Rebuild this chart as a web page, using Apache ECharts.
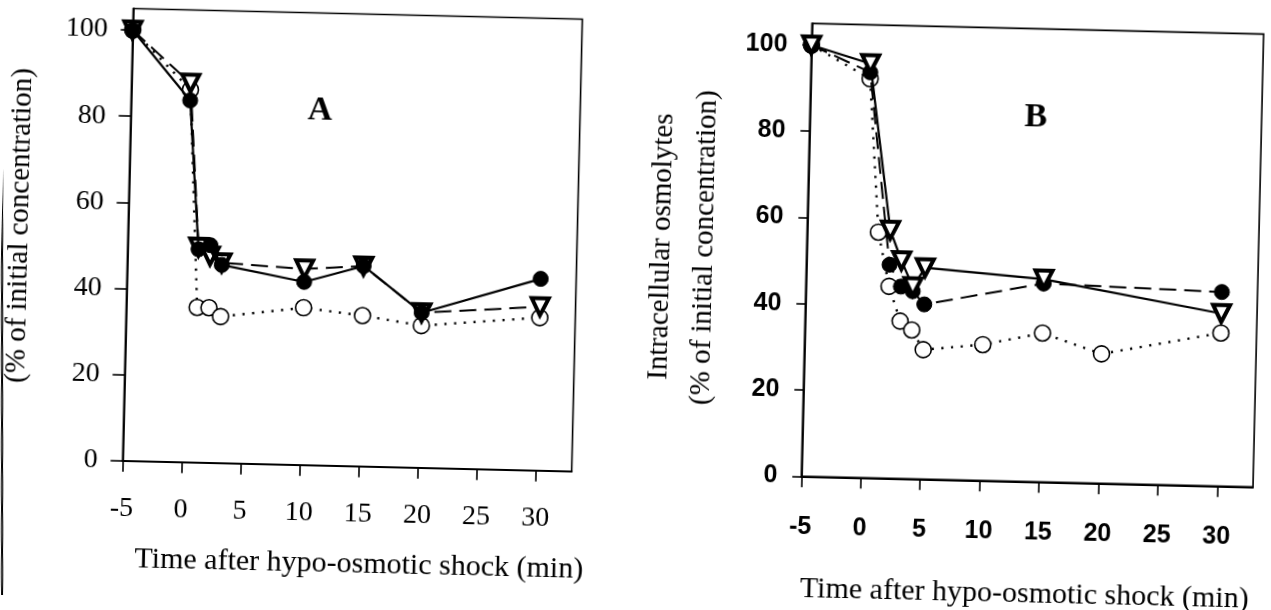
<!DOCTYPE html>
<html>
<head>
<meta charset="utf-8">
<script src="https://cdn.jsdelivr.net/npm/echarts@6/dist/echarts.min.js"></script>
<style>
  html, body { margin: 0; padding: 0; background: #fff; overflow: hidden; }
  /* the printed figure sits slightly tilted on the page */
  #chart { width: 1271px; height: 610px; transform: rotate(1.35deg); transform-origin: 635.5px 305px; }
</style>
</head>
<body>
<div id="chart"></div>
<script>
// Axis ticks and titles shared by both panels
const xTicks = [-5, 0, 5, 10, 15, 20, 25, 30];
const yTicks = [0, 20, 40, 60, 80, 100];
const xTitle = 'Time after hypo-osmotic shock (min)';
const yTitle = 'Intracellular osmolytes\n(% of initial concentration)';

// Panel A: all three series sampled at the same times
const timeA = [-5, 0, 1, 2, 3, 10, 15, 20, 30];
const aFilled = [100, 84, 49.5, 50.5, 46, 42.5, 46.5, 36, 44.5];
const aTriangle = [100, 88, 50, 48, 46.5, 45.5, 46.5, 36, 38];
const aOpen = [100, 86.5, 36, 36, 34, 36.5, 35, 33, 35.5];

// Panel B
const timeBFilled = [-5, 0, 2, 3, 4, 5, 15, 30];
const bFilled = [100, 94, 49.5, 44.5, 43.5, 40.5, 46, 45];
const timeBTriangle = [-5, 0, 2, 3, 4, 5, 15, 30];
const bTriangle = [100, 96, 57.5, 50.5, 44.5, 49, 47, 40];
const timeBOpen = [-5, 0, 1, 2, 3, 4, 5, 10, 15, 20, 30];
const bOpen = [100, 92.5, 57, 44.5, 36.5, 34.5, 30, 31.5, 34.5, 30, 35.5];

const pairs = (xs, ys) => xs.map((x, i) => [x, ys[i]]);

const SERIF = '"Liberation Serif", "Times New Roman", serif';
const SANS = '"Liberation Sans", Arial, sans-serif';

function xAxisFor(gridIndex, font, size, weight, margin, tickLen) {
  return {
    type: 'value', gridIndex, min: -5, max: 33,
    axisLine: { show: true, onZero: false, lineStyle: { color: '#000', width: 1.8 } },
    axisTick: { show: true, inside: false, length: tickLen, customValues: xTicks,
                lineStyle: { color: '#000', width: 1.6 } },
    axisLabel: { customValues: xTicks, margin, color: '#000',
                 fontFamily: font, fontSize: size, fontWeight: weight },
    splitLine: { show: false }
  };
}
function yAxisFor(gridIndex, font, size, weight, margin, tickLen) {
  return {
    type: 'value', gridIndex, min: 0, max: 105,
    axisLine: { show: true, onZero: false, lineStyle: { color: '#000', width: 1.8 } },
    axisTick: { show: true, inside: false, length: tickLen, customValues: yTicks,
                lineStyle: { color: '#000', width: 1.6 } },
    axisLabel: { customValues: yTicks, margin, color: '#000',
                 fontFamily: font, fontSize: size, fontWeight: weight },
    splitLine: { show: false }
  };
}

const filledMark = { symbol: 'circle', symbolSize: 15, itemStyle: { color: '#000', borderColor: '#000', borderWidth: 1 } };
const openMark = { symbol: 'circle', symbolSize: 16, itemStyle: { color: '#fff', borderColor: '#000', borderWidth: 1.6 } };
const triMark = { symbol: 'triangle', symbolRotate: 180, symbolSize: 17, itemStyle: { color: '#fff', borderColor: '#000', borderWidth: 4 } };

const solid = { color: '#000', width: 2.2, type: 'solid' };
const dashed = { color: '#000', width: 2, type: [17, 8] };
const dotted = { color: '#000', width: 2.4, type: [2.2, 7.5] };

function series(name, xi, data, mark, line, z) {
  return Object.assign({
    name, type: 'line', xAxisIndex: xi, yAxisIndex: xi, data,
    lineStyle: line, clip: false, animation: false, z,
    emphasis: { disabled: true }
  }, mark);
}

const chart = echarts.init(document.getElementById('chart'), null, { renderer: 'canvas' });
chart.setOption({
  backgroundColor: '#fff',
  animation: false,
  grid: [
    { left: 126.4, top: 20.5, width: 449.2, height: 452.3, show: true,
      borderColor: '#000', borderWidth: 1.6, backgroundColor: 'transparent' },
    { left: 805.3, top: 19.4, width: 451.8, height: 452.9, show: true,
      borderColor: '#000', borderWidth: 1.6, backgroundColor: 'transparent' }
  ],
  xAxis: [
    xAxisFor(0, SERIF, 28, 'normal', 34, 11),
    xAxisFor(1, SANS, 25, 'bold', 38, 11)
  ],
  yAxis: [
    yAxisFor(0, SERIF, 28, 'normal', 25, 12),
    yAxisFor(1, SANS, 25, 'bold', 24, 9)
  ],
  series: [
    series('A open', 0, pairs(timeA, aOpen), openMark, dotted, 2),
    series('A triangle', 0, pairs(timeA, aTriangle), triMark, dashed, 3),
    series('A filled', 0, pairs(timeA, aFilled), filledMark, solid, 4),
    series('B open', 1, pairs(timeBOpen, bOpen), openMark, dotted, 2),
    series('B filled', 1, pairs(timeBFilled, bFilled), filledMark, dashed, 3),
    series('B triangle', 1, pairs(timeBTriangle, bTriangle), triMark, solid, 4)
  ],
  graphic: [
    // page edge rule on the far left
    { type: 'line', shape: { x1: -5.8, y1: -20, x2: 9.8, y2: 640 },
      style: { stroke: '#000', lineWidth: 2 }, silent: true },
    // panel letters
    { type: 'text', x: 315.5, y: 118.5,
      style: { text: 'A', font: 'bold 34px ' + SERIF, fill: '#000', align: 'center', verticalAlign: 'middle' } },
    { type: 'text', x: 1031.4, y: 108,
      style: { text: 'B', font: 'bold 34px ' + SERIF, fill: '#000', align: 'center', verticalAlign: 'middle' } },
    // x-axis titles
    { type: 'text', x: 365, y: 571,
      style: { text: xTitle, font: '30px ' + SERIF, fill: '#000', align: 'center', verticalAlign: 'middle' } },
    { type: 'text', x: 1031, y: 585,
      style: { text: xTitle, font: '30px ' + SERIF, fill: '#000', align: 'center', verticalAlign: 'middle' } },
    // y-axis titles (two lines, reading bottom to top)
    { type: 'text', x: -2.7, y: 240, rotation: Math.PI / 2,
      style: { text: yTitle, font: '29px ' + SERIF, lineHeight: 43, fill: '#000', align: 'center', verticalAlign: 'middle' } },
    { type: 'text', x: 682.1, y: 246, rotation: Math.PI / 2,
      style: { text: yTitle, font: '29px ' + SERIF, lineHeight: 43, fill: '#000', align: 'center', verticalAlign: 'middle' } }
  ]
});
</script>
</body>
</html>
